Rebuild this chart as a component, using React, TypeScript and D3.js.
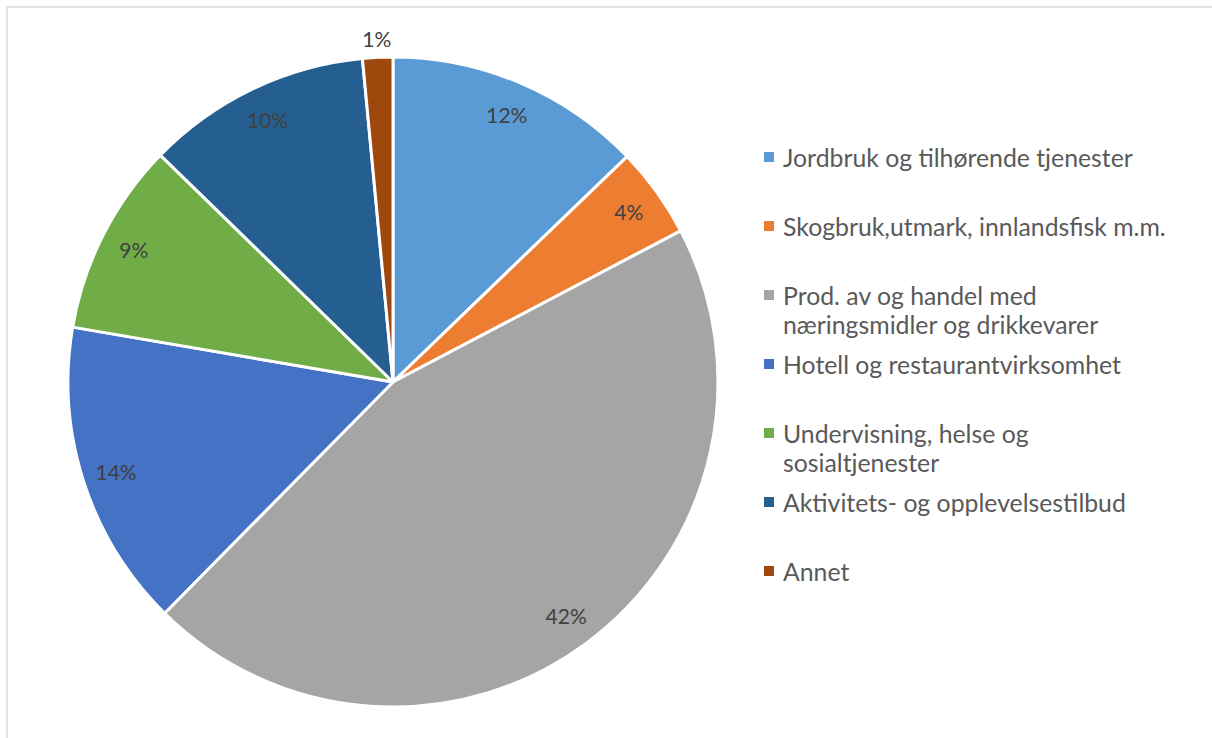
import React from "react";
import * as d3 from "d3";

const categories = [
  "Jordbruk og tilhørende tjenester",
  "Skogbruk,utmark, innlandsfisk m.m.",
  "Prod. av og handel med næringsmidler og drikkevarer",
  "Hotell og restaurantvirksomhet",
  "Undervisning, helse og sosialtjenester",
  "Aktivitets- og opplevelsestilbud",
  "Annet",
];
const legendLines = [
  ["Jordbruk og tilhørende tjenester"],
  ["Skogbruk,utmark, innlandsfisk m.m."],
  ["Prod. av og handel med", "næringsmidler og drikkevarer"],
  ["Hotell og restaurantvirksomhet"],
  ["Undervisning, helse og", "sosialtjenester"],
  ["Aktivitets- og opplevelsestilbud"],
  ["Annet"],
];
const values = [12.8, 4.5, 45.1, 15.3, 9.6, 11.2, 1.5];
const percentLabels = ["12%", "4%", "42%", "14%", "9%", "10%", "1%"];
const colors = ["#5B9BD5", "#ED7D31", "#A5A5A5", "#4472C4", "#70AD47", "#255E91", "#9E480E"];

export default function App() {
  const W = 1212, H = 738;
  const cx = 393, cy = 382, r = 325;
  const pie = d3.pie<number>().sort(null).value((d) => d)(values);
  const arc = d3.arc<d3.PieArcDatum<number>>().innerRadius(0).outerRadius(r);
  const total = d3.sum(values);
  const font = "Lato, 'Open Sans', sans-serif";
  const legendX = 764, legendY0 = 157, legendStep = 69, lineH = 29;

  return (
    <svg width={W} height={H} style={{ position: "absolute", left: 0, top: 0 }} xmlns="http://www.w3.org/2000/svg">
      <rect x={0} y={0} width={W} height={H} fill="#ffffff" />
      <rect x={7} y={7} width={W + 20} height={H + 20} fill="none" stroke="#D9D9D9" strokeWidth={1.5} />
      <g transform={`translate(${cx},${cy})`}>
        {pie.map((p, i) => (
          <path key={categories[i]} d={arc(p) || ""} fill={colors[i]} stroke="#ffffff" strokeWidth={3} strokeLinejoin="round" />
        ))}
        {pie.map((p, i) => {
          const mid = (p.startAngle + p.endAngle) / 2;
          const outside = p.value / total < 0.02;
          const lr = outside ? r + 19 : r * 0.895;
          const x = Math.sin(mid) * lr;
          const y = -Math.cos(mid) * lr;
          return (
            <text key={"l" + i} x={x} y={y} textAnchor="middle" dominantBaseline="central"
              fontFamily={font} fontSize={21} fill="#404040">
              {percentLabels[i]}
            </text>
          );
        })}
      </g>
      <g>
        {legendLines.map((lines, i) => {
          const y = legendY0 + i * legendStep;
          return (
            <g key={"lg" + i}>
              <rect x={legendX} y={y - 5} width={10} height={10} fill={colors[i]} />
              {lines.map((t, j) => (
                <text key={j} x={legendX + 19} y={y + j * lineH} dominantBaseline="central"
                  fontFamily={font} fontSize={24.8} fill="#595959">
                  {t}
                </text>
              ))}
            </g>
          );
        })}
      </g>
    </svg>
  );
}
